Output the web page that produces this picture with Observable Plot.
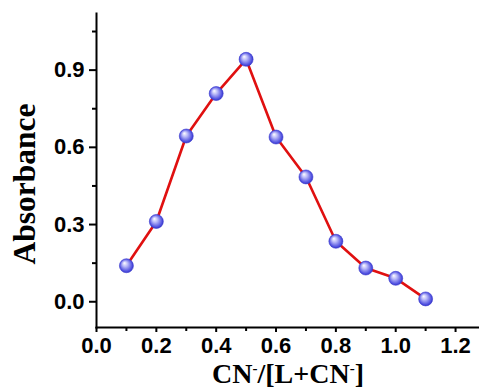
<!DOCTYPE html>
<html><head><meta charset="utf-8">
<script src="https://cdn.jsdelivr.net/npm/d3@7"></script>
<script src="https://cdn.jsdelivr.net/npm/@observablehq/plot@0.6"></script>
<style>body{margin:0;background:#fff} svg{display:block}</style>
</head><body><div id="chart"></div>
<script>
const ratio = [0.1, 0.2, 0.3, 0.4, 0.5, 0.6, 0.7, 0.8, 0.9, 1.0, 1.1];
const absorbance = [0.140, 0.312, 0.644, 0.809, 0.942, 0.640, 0.485, 0.235, 0.131, 0.091, 0.011];
const xTicks = [0, 0.2, 0.4, 0.6, 0.8, 1.0, 1.2];
const xMinor = [0.1, 0.3, 0.5, 0.7, 0.9, 1.1];
const yTicks = [0, 0.3, 0.6, 0.9];
const yMinor = [0.15, 0.45, 0.75, 1.05];
const yLabel = "Absorbance";

const data = ratio.map((r, i) => ({r, a: absorbance[i]}));
const tickFont = {fontFamily: "'Liberation Sans', Arial, sans-serif", fontWeight: "bold", fontSize: 22};

const plot = Plot.plot({
  width: 479, height: 391,
  marginLeft: 96, marginRight: 0, marginTop: 13, marginBottom: 64,
  style: {background: "#fff", color: "#000", overflow: "visible"},
  x: {domain: [0, 1.28]},
  y: {domain: [-0.1, 1.12]},
  marks: [
    Plot.axisX({ticks: xTicks, tickFormat: d3.format(".1f"), tickSize: 5, tickPadding: 5, strokeWidth: 2, label: null, ...tickFont}),
    Plot.axisX({ticks: xMinor, tickFormat: null, text: null, tickSize: 4, strokeWidth: 2, label: null}),
    Plot.axisY({ticks: yTicks, tickFormat: d3.format(".1f"), tickSize: 7, tickPadding: 5, strokeWidth: 2, label: null, ...tickFont}),
    Plot.axisY({ticks: yMinor, tickFormat: null, text: null, tickSize: 4, strokeWidth: 2, label: null}),
    Plot.frame({anchor: "left", strokeWidth: 2}),
    Plot.frame({anchor: "bottom", strokeWidth: 2}),
    Plot.line(data, {x: "r", y: "a", stroke: "#e01010", strokeWidth: 2.6}),
    Plot.dot(data, {x: "r", y: "a", r: 7, fill: "url(#ball)", stroke: "#3a3ad0", strokeWidth: 0.6})
  ]
});

const svg = d3.select(plot);
const defs = svg.insert("defs", ":first-child");
const g = defs.append("radialGradient").attr("id", "ball").attr("cx", "0.5").attr("cy", "0.5").attr("r", "0.55").attr("fx", "0.35").attr("fy", "0.3");
g.append("stop").attr("offset", "0").attr("stop-color", "#ffffff");
g.append("stop").attr("offset", "0.35").attr("stop-color", "#b8b8f8");
g.append("stop").attr("offset", "0.8").attr("stop-color", "#5050e0");
g.append("stop").attr("offset", "1").attr("stop-color", "#2a2ab8");

const serif = "'Liberation Serif', 'Times New Roman', serif";
svg.append("text")
  .attr("transform", "translate(35,184) rotate(-90)")
  .attr("text-anchor", "middle")
  .attr("font-family", serif).attr("font-weight", "bold").attr("font-size", 31.5)
  .text(yLabel);

const xl = svg.append("text")
  .attr("x", 288).attr("y", 383)
  .attr("text-anchor", "middle")
  .attr("font-family", serif).attr("font-weight", "bold").attr("font-size", 28);
xl.append("tspan").text("CN");
xl.append("tspan").attr("dy", -10).attr("font-size", 15).text("-");
xl.append("tspan").attr("dy", 10).text("/[L+CN");
xl.append("tspan").attr("dy", -10).attr("font-size", 15).text("-");
xl.append("tspan").attr("dy", 10).text("]");

document.getElementById("chart").appendChild(plot);
</script></body></html>
